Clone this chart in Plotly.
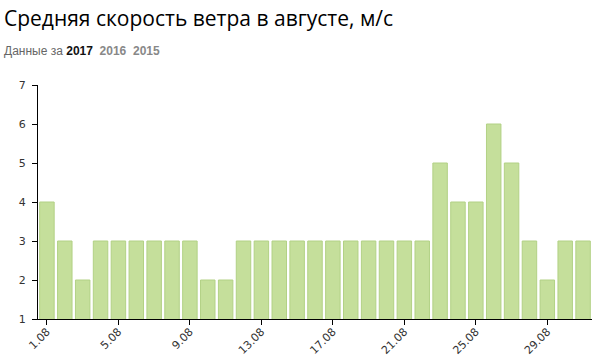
import plotly.graph_objects as go

days = list(range(1, 32))
wind = [4, 3, 2, 3, 3, 3, 3, 3, 3, 2, 2, 3, 3, 3, 3, 3, 3, 3, 3, 3, 3, 3, 5, 4, 4, 6, 5, 3, 2, 3, 3]
tick_days = [1, 5, 9, 13, 17, 21, 25, 29]
tick_labels = [f"{d}.08" for d in tick_days]
y_ticks = [1, 2, 3, 4, 5, 6, 7]

fig = go.Figure()
fig.add_trace(go.Bar(
    x=days, y=wind,
    marker=dict(color="#c5df9b", line=dict(color="#b2d185", width=1)),
    hoverinfo="x+y",
))

PLOT_W, PLOT_H, L, T = 554, 234, 38, 85

fig.update_layout(
    width=600, height=358,
    margin=dict(l=L, r=8, t=T, b=39, autoexpand=False),
    paper_bgcolor="white", plot_bgcolor="white",
    bargap=0.19,
    showlegend=False,
    font=dict(family="DejaVu Sans", size=11, color="#333"),
    xaxis=dict(
        range=[0.5, 31.5], tickmode="array", tickvals=tick_days, ticktext=tick_labels,
        tickangle=-45, showgrid=False, zeroline=False, automargin=False,
        showline=True, linecolor="#000", linewidth=1,
        ticks="outside", ticklen=5, tickcolor="#000", ticklabelstandoff=-4,
        tickfont=dict(family="DejaVu Sans", size=11, color="#333"),
    ),
    yaxis=dict(
        range=[1, 7], tickmode="array", tickvals=y_ticks,
        showgrid=False, zeroline=False, automargin=False,
        showline=True, linecolor="#000", linewidth=1,
        ticks="outside", ticklen=5, tickcolor="#000", ticklabelstandoff=4,
        tickfont=dict(family="DejaVu Sans", size=11, color="#333"),
    ),
)
fig.add_annotation(text="Средняя скорость ветра в августе, м/с", xref="paper", yref="paper",
                   x=-(L - 2) / PLOT_W, y=1 + (T - 2) / PLOT_H, xanchor="left", yanchor="top", showarrow=False,
                   font=dict(family="Open Sans", size=21, color="#000"))
fig.add_annotation(text="Данные за <b style='color:#111'>2017</b>  <b><span style='color:#888'>2016</span></b>  <b><span style='color:#888'>2015</span></b>",
                   xref="paper", yref="paper",
                   x=-(L - 2) / PLOT_W, y=1 + (T - 42) / PLOT_H, xanchor="left", yanchor="top", showarrow=False,
                   font=dict(family="Liberation Sans", size=12, color="#666"))

fig.write_html("out.html")
